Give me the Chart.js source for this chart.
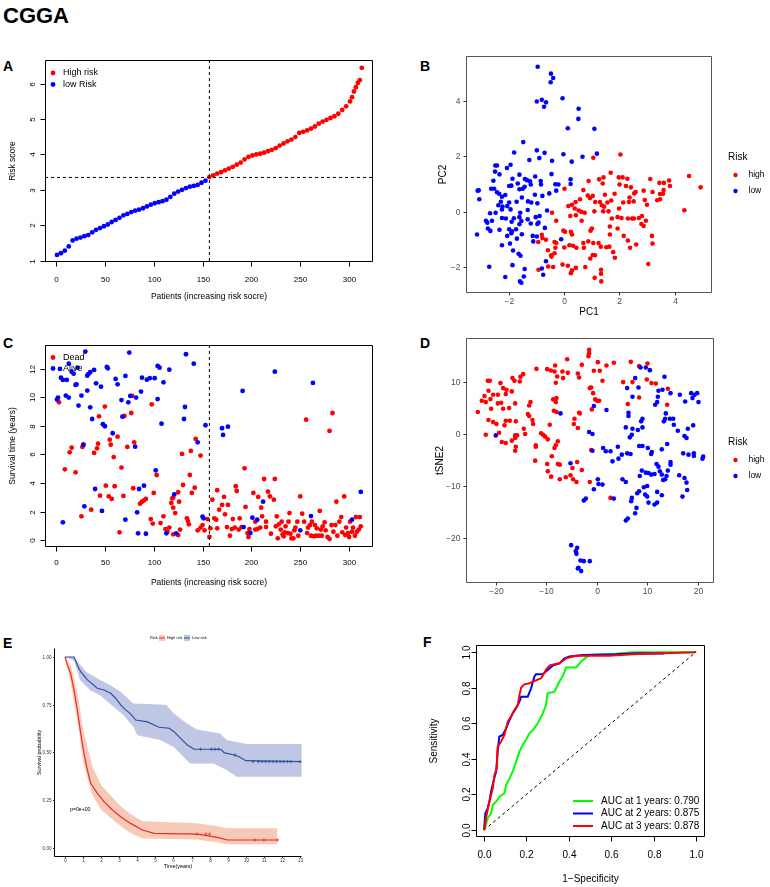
<!DOCTYPE html>
<html>
<head>
<meta charset="utf-8">
<script src="https://cdn.jsdelivr.net/npm/chart.js@4.4.0/dist/chart.umd.min.js"></script>
<style>
  body { margin: 0; background: #fff; }
  #wrap { position: relative; width: 770px; height: 887px; overflow: hidden; font-family: "Liberation Sans", Arial, sans-serif; }
  canvas { position: absolute; }
  .tag { position: absolute; font-weight: bold; font-size: 14px; line-height: 14px; color: #000; }
</style>
</head>
<body>
<div id="wrap">
  <div class="tag" style="left:3px;top:5px;font-size:22px;line-height:22px">CGGA</div>
  <div class="tag" style="left:3px;top:59px">A</div>
  <div class="tag" style="left:420px;top:59px">B</div>
  <div class="tag" style="left:3px;top:336px">C</div>
  <div class="tag" style="left:420px;top:336px">D</div>
  <div class="tag" style="left:3px;top:636px">E</div>
  <div class="tag" style="left:423px;top:635px">F</div>
  <canvas id="cA" width="385" height="265" style="left:0;top:40px"></canvas>
  <canvas id="cB" width="370" height="285" style="left:400px;top:40px"></canvas>
  <canvas id="cC" width="385" height="265" style="left:0;top:325px"></canvas>
  <canvas id="cD" width="370" height="285" style="left:400px;top:325px"></canvas>
  <canvas id="cE" width="385" height="277" style="left:0;top:610px"></canvas>
  <canvas id="cF" width="370" height="277" style="left:400px;top:610px"></canvas>
</div>
<script>
// ---- A: risk score by patient rank (sampled along the curve)
const riskIdx = [1,5,9,13,17,21,25,29,33,37,41,45,49,53,57,61,65,69,73,77,81,85,89,93,97,101,105,109,113,117,121,125,129,133,137,141,145,149,153,157,161,165,169,173,177,181,185,189,193,197,201,205,209,213,217,221,225,229,233,237,241,245,249,253,257,261,265,269,273,277,281,285,289,293,297,301,303,305,307,309,311,313];
const riskScore = [1.16,1.21,1.28,1.40,1.57,1.62,1.65,1.69,1.72,1.80,1.87,1.92,1.97,2.02,2.09,2.15,2.21,2.28,2.32,2.37,2.41,2.44,2.48,2.53,2.58,2.62,2.65,2.68,2.72,2.80,2.89,2.95,3.00,3.05,3.09,3.11,3.14,3.20,3.26,3.36,3.41,3.46,3.50,3.55,3.60,3.65,3.71,3.77,3.86,3.93,3.97,4.00,4.02,4.05,4.09,4.13,4.18,4.25,4.31,4.37,4.42,4.49,4.61,4.64,4.68,4.73,4.79,4.87,4.93,4.98,5.03,5.08,5.15,5.26,5.36,5.50,5.62,5.78,5.90,6.02,6.10,6.45];
const cutPatient = 157;
const riskCut = 3.35;
const rankTicks = [0, 50, 100, 150, 200, 250, 300];
const riskTicks = [1, 2, 3, 4, 5, 6];

// ---- B: PCA
const pcaHigh = [[1.06,1.95],[2.04,2.07],[1.69,1.41],[1.27,1.17],[1.43,1.24],[0.89,1.11],[1.98,1.24],[2.12,1.24],[2.29,1.19],[1.40,1.02],[2.01,0.98],[2.42,0.88],[2.24,0.93],[3.12,1.18],[3.45,1.04],[3.61,1.04],[3.80,1.13],[3.83,0.93],[4.52,1.29],[4.94,0.88],[0.02,0.83],[0.70,0.78],[0.86,0.58],[0.94,0.49],[1.04,0.57],[0.58,0.45],[1.48,0.61],[1.83,0.65],[2.54,0.66],[2.59,0.71],[2.88,0.76],[2.37,0.51],[2.52,0.37],[3.20,0.71],[3.47,0.64],[3.37,0.41],[3.58,0.65],[3.60,0.78],[3.47,0.45],[2.92,0.42],[3.0,0.25],[0.42,0.35],[0.29,0.25],[1.13,0.35],[1.30,0.35],[1.37,0.23],[1.45,0.18],[1.57,0.33],[1.71,0.40],[2.14,0.33],[2.35,0.35],[0.16,0.20],[0.39,0.11],[0.53,0.04],[0.63,-0.01],[0.75,-0.04],[0.43,-0.13],[1.10,0.01],[1.42,0.01],[1.61,0.01],[1.99,0.11],[2.31,-0.25],[2.46,-0.25],[2.53,-0.25],[2.71,-0.23],[2.82,-0.16],[2.96,-0.33],[2.80,-0.45],[2.88,-0.52],[4.35,0.05],[-0.43,-0.04],[-0.28,-0.33],[0.23,-0.16],[0.64,-0.33],[1.73,-0.25],[1.94,-0.20],[2.08,-0.23],[-0.02,-0.69],[0.04,-0.73],[0.25,-0.73],[0.29,-0.83],[1.01,-0.61],[0.96,-0.69],[1.66,-0.54],[1.66,-0.83],[1.94,-0.61],[2.16,-0.88],[2.31,-1.05],[2.39,-1.31],[2.61,-1.19],[3.18,-0.88],[3.20,-1.16],[-0.80,-0.84],[-0.78,-0.96],[-0.65,-1.02],[-0.93,-1.10],[-0.34,-1.10],[-0.28,-1.14],[0.01,-1.30],[0.20,-1.22],[0.33,-1.24],[0.45,-1.31],[0.70,-1.14],[0.72,-1.31],[0.88,-1.08],[1.06,-1.14],[1.25,-1.14],[1.33,-1.27],[1.53,-1.29],[1.64,-1.27],[-0.31,-1.31],[-0.58,-1.40],[-0.34,-1.51],[-0.45,-1.63],[1.04,-1.57],[1.12,-1.58],[1.78,-1.47],[1.84,-1.67],[-0.39,-2.01],[-0.57,-1.99],[-0.92,-2.11],[-0.05,-1.92],[0.14,-1.96],[0.29,-2.13],[0.43,-2.04],[0.25,-2.23],[0.77,-2.01],[1.11,-2.40],[1.34,-2.11],[1.34,-2.25],[1.35,-2.53],[3.05,-1.90],[-0.46,-1.58],[0.95,-1.70]];
const pcaLow = [[-0.95,5.25],[-0.47,5.0],[-0.39,4.84],[-0.48,4.69],[-0.98,3.99],[-0.80,4.05],[-0.65,3.96],[-0.72,3.80],[-0.05,4.11],[0.53,3.73],[0.52,3.36],[0.14,3.02],[1.10,3.0],[-1.47,2.52],[-1.80,2.14],[-0.98,2.22],[-0.70,2.13],[-0.02,2.08],[0.67,1.99],[1.19,2.10],[-1.25,1.87],[-0.89,1.94],[-0.43,1.84],[0.28,1.81],[-2.48,1.67],[-2.42,1.67],[-1.93,1.70],[-2.06,1.58],[-2.49,1.45],[-2.33,1.35],[-0.45,1.36],[-1.61,1.34],[-1.04,1.27],[-1.41,1.18],[-1.34,1.14],[-1.23,1.10],[-0.84,1.11],[-1.86,1.19],[-2.55,1.12],[-1.67,1.02],[-1.98,0.93],[-1.90,0.94],[-1.20,0.98],[-0.83,0.98],[-0.31,0.99],[-0.20,0.98],[0.24,1.17],[0.24,1.0],[-3.08,0.77],[-3.12,0.76],[-2.63,0.83],[-2.52,0.83],[-2.42,0.70],[-2.34,0.65],[-2.12,0.60],[-2.24,0.54],[-1.61,0.81],[-1.49,0.83],[-1.42,0.90],[-0.28,0.76],[-0.53,0.66],[-1.05,0.61],[-0.78,0.57],[-3.06,0.45],[-2.28,0.36],[-1.98,0.33],[-1.71,0.36],[-1.52,0.51],[-1.30,0.37],[-1.18,0.33],[-0.96,0.30],[-2.37,0.23],[-2.22,0.18],[-2.05,0.20],[-2.24,0.08],[-1.93,0.08],[-2.47,-0.04],[-2.67,-0.06],[-1.58,-0.04],[-1.31,0.06],[-0.61,0.04],[-2.82,-0.33],[-2.60,-0.33],[-2.24,-0.23],[-2.10,-0.25],[-1.81,-0.24],[-1.61,-0.20],[-1.54,-0.34],[-1.02,-0.20],[-0.88,-0.16],[-2.77,-0.40],[-1.89,-0.37],[-1.61,-0.46],[-1.20,-0.43],[-0.96,-0.45],[-0.92,-0.40],[-1.31,-0.28],[-2.75,-0.61],[-2.66,-0.70],[-2.33,-0.66],[-1.98,-0.64],[-1.88,-0.71],[-1.90,-0.78],[-1.73,-0.64],[-0.69,-0.59],[-3.14,-0.83],[-2.05,-0.88],[-1.70,-0.98],[-1.52,-0.82],[-1.13,-0.88],[-0.98,-0.90],[-0.10,-1.0],[-2.24,-1.22],[-1.95,-1.16],[-1.11,-1.08],[-1.84,-1.41],[-1.64,-1.53],[-1.57,-1.60],[-0.65,-1.80],[-2.70,-2.0],[-1.86,-1.94],[-1.42,-2.08],[-0.80,-2.06],[-0.75,-2.29],[-2.12,-2.37],[-1.45,-2.35],[-1.59,-2.53],[-1.54,-2.58]];
const pcaTicks = [-2, 0, 2, 4];

// ---- C: survival time by patient rank
const survDead = [[3,9.66],[50,9.36],[44,8.68],[70,8.70],[77,8.91],[78,10.11],[98,9.52],[143,7.09],[14,6.15],[16,6.48],[27,6.53],[28,6.71],[39,6.11],[42,6.43],[43,6.76],[55,7.04],[56,6.69],[63,7.25],[59,5.82],[73,6.53],[80,6.85],[129,6.04],[138,6.25],[148,5.92],[9,4.96],[20,4.75],[67,5.08],[103,4.56],[137,4.56],[45,3.11],[51,3.81],[54,3.06],[57,2.88],[60,3.77],[69,3.09],[79,3.63],[100,3.30],[120,2.97],[125,3.35],[130,3.86],[139,3.30],[142,3.67],[26,1.66],[36,2.13],[65,0.54],[86,2.55],[88,2.69],[90,2.78],[92,2.88],[97,1.47],[99,1.15],[107,1.19],[110,1.66],[112,0.77],[114,0.58],[116,0.87],[118,2.60],[119,2.92],[120,2.27],[122,1.89],[126,2.69],[120,0.40],[125,0.35],[127,0.73],[134,1.52],[135,1.33],[136,1.10],[148,0.87],[150,1.05],[145,0.68],[152,0.68],[155,1.47],[157,0.21],[158,0.82],[160,2.83],[162,1.52],[164,1.43],[165,0.82],[165,3.49],[167,2.13],[170,2.46],[172,3.02],[173,1.80],[175,0.91],[176,2.46],[178,0.30],[180,0.77],[181,1.47],[183,0.87],[184,3.77],[185,3.44],[187,0.73],[188,1.52],[190,0.91],[193,5.03],[194,2.32],[196,0.49],[197,0.21],[198,0.77],[202,3.30],[204,1.29],[204,0.73],[206,0.77],[207,3.02],[209,0.87],[210,2.27],[211,1.66],[213,4.28],[215,1.29],[215,0.91],[217,3.39],[219,3.06],[220,0.44],[223,2.83],[224,4.28],[225,0.96],[226,1.66],[227,0.12],[228,1.10],[230,0.73],[231,1.29],[232,0.40],[233,0.26],[234,0.54],[235,0.96],[237,0.49],[238,1.29],[239,1.89],[240,0.44],[241,0.12],[243,0.12],[244,0.68],[245,0.87],[247,1.29],[248,0.30],[250,3.06],[252,1.85],[254,1.29],[256,8.44],[257,0.49],[258,0.87],[260,1.05],[261,0.30],[262,1.29],[264,0.26],[265,1.05],[266,0.30],[267,0.82],[269,0.30],[270,2.04],[271,0.73],[272,0.30],[273,0.96],[275,1.24],[276,0.68],[278,0.21],[280,7.65],[280,0.07],[282,1.05],[283,8.91],[284,0.58],[286,1.05],[287,2.69],[288,0.30],[290,1.29],[292,1.61],[293,0.54],[295,3.06],[296,0.35],[297,0.87],[299,0.49],[300,0.21],[301,1.29],[303,0.58],[304,0.87],[306,0.30],[307,1.61],[308,0.58],[310,0.73],[311,1.61],[312,0.96]];
const survAlive = [[4,12.0],[13,12.37],[16,11.81],[18,11.67],[22,12.09],[5,11.39],[7,11.23],[11,11.23],[20,10.88],[21,10.92],[30,13.22],[33,11.63],[32,11.53],[35,11.77],[39,11.93],[52,12.14],[53,12.05],[41,10.99],[46,10.76],[61,11.3],[63,10.92],[71,11.51],[75,13.15],[88,11.39],[93,11.25],[96,11.35],[101,11.35],[104,12.21],[106,12.09],[116,11.95],[110,11.06],[133,13.03],[141,12.37],[2,9.99],[1,9.85],[10,10.13],[13,9.99],[26,10.13],[32,10.48],[23,9.43],[35,9.31],[37,8.49],[48,8.12],[50,7.98],[58,7.49],[67,9.82],[68,8.65],[74,9.66],[76,10.11],[82,9.99],[87,10.41],[104,9.89],[108,8.16],[132,9.33],[131,8.49],[153,8.05],[170,7.84],[176,7.95],[171,7.37],[145,6.85],[28,6.67],[81,6.55],[40,3.58],[85,3.58],[90,3.81],[102,4.89],[29,2.36],[47,2.04],[83,1.94],[71,1.43],[7,1.24],[84,0.47],[92,0.44],[113,0.47],[121,3.2],[123,0.47],[150,1.64],[151,1.52],[191,10.46],[224,11.81],[263,11.02],[212,2.69],[201,1.57],[206,1.43],[192,0.91],[199,0.49],[261,1.68],[303,1.43],[312,3.37],[250,0.68]];
const yearTicks = [0, 2, 4, 6, 8, 10, 12];

// ---- D: tSNE
const tsneHigh = [[-1.52,16.22],[-1.52,15.58],[-1.65,15.0],[-5.87,14.42],[-8.25,13.21],[-2.97,13.33],[0.20,13.85],[1.91,13.21],[3.37,13.72],[6.73,13.91],[8.38,13.08],[10.03,13.59],[-11.95,12.56],[-9.83,12.5],[-9.11,12.24],[-8.38,12.05],[-6.80,12.05],[-5.74,11.79],[-3.76,11.67],[-0.59,12.18],[0.59,12.18],[-14.59,11.54],[-15.12,11.03],[-16.70,10.77],[-16.30,10.26],[-15.25,10.13],[-7.85,11.09],[-6.67,10.77],[-3.50,10.90],[1.12,10.26],[5.21,10.0],[7.06,10.0],[9.90,10.51],[10.83,9.81],[11.68,9.74],[-21.58,10.26],[-21.19,10.26],[-19.08,9.81],[-18.55,8.85],[-17.89,8.53],[-16.83,8.21],[-8.12,9.87],[-1.12,8.97],[-1.39,8.85],[-21.45,8.33],[-20.53,7.56],[-22.24,7.31],[-19.60,7.56],[-18.02,7.69],[-22.77,6.41],[-21.98,6.15],[-21.06,6.73],[-19.60,5.90],[-18.94,6.03],[-18.55,4.87],[-16.17,5.90],[-13.14,6.15],[-13.40,5.51],[-8.65,6.67],[-7.99,6.92],[-8.12,6.15],[-0.73,7.88],[-0.33,6.67],[0.07,6.41],[0.46,6.41],[-23.56,4.23],[-20.92,4.87],[-17.36,5.0],[-13.66,3.85],[-13.40,3.46],[-8.51,4.49],[-7.99,4.23],[-3.50,4.10],[-3.37,3.97],[-0.99,4.74],[6.14,5.77],[8.38,7.05],[14.06,8.72],[13.93,5.64],[-21.45,2.69],[-20.53,2.31],[-19.87,1.92],[-18.02,2.56],[-18.28,1.67],[-17.23,2.56],[-16.04,2.44],[-14.46,1.03],[-12.74,2.69],[-12.61,1.92],[-9.31,1.79],[-4.42,2.95],[-4.55,1.92],[-3.76,1.15],[-21.98,-0.13],[-19.34,0.26],[-18.81,-1.54],[-18.02,-1.73],[-16.83,-1.28],[-16.17,-0.26],[-16.17,-0.77],[-15.78,-0.26],[-14.19,0.0],[-11.02,0.13],[-10.63,-0.13],[-10.23,-0.51],[-9.70,-1.03],[-16.04,-2.44],[-16.17,-3.21],[-12.08,-2.18],[-12.08,-2.44],[-8.38,-2.69],[-8.12,-2.18],[-7.72,-1.41],[-8.91,-4.29],[-12.21,-5.13],[-9.83,-5.77],[-7.72,-5.77],[-7.33,-5.90],[-3.89,-5.38],[-4.82,-6.54],[-2.97,-6.92],[-5.21,-7.95],[-6.14,-8.33],[-7.33,-8.72],[-9.04,-8.21],[-4.69,-8.72],[-4.03,-9.23],[-9.70,-7.18],[-1.39,-9.23],[-1.12,-3.08],[2.71,-12.31]];
const tsneLow = [[8.65,12.82],[9.70,12.82],[10.50,12.31],[13.40,11.03],[7.59,10.77],[8.25,8.97],[6.01,8.85],[12.21,8.33],[13.0,8.53],[14.59,7.88],[7.06,7.18],[12.08,7.18],[16.44,7.56],[18.68,7.88],[19.34,7.56],[19.87,7.88],[18.94,6.92],[20.13,6.15],[17.49,6.28],[11.95,6.15],[11.55,5.64],[-0.59,5.38],[1.91,4.62],[6.27,4.10],[6.27,3.46],[9.04,2.95],[8.78,2.44],[13.66,3.97],[13.53,2.95],[14.46,2.95],[15.12,2.95],[13.27,2.44],[15.25,1.79],[19.08,1.67],[18.02,1.03],[16.04,0.64],[5.74,1.28],[7.06,1.03],[8.12,0.77],[9.04,1.28],[6.53,-0.64],[6.93,-0.13],[-7.19,3.97],[-1.52,0.38],[-0.86,0.0],[-20.0,-0.26],[17.36,-0.38],[17.76,-0.77],[8.38,-2.31],[9.04,-2.31],[10.10,-2.69],[10.76,-3.85],[10.89,-3.46],[13.93,-1.92],[12.87,-2.95],[1.25,-2.69],[1.78,-3.33],[2.71,-3.33],[-0.86,-3.21],[4.16,-2.44],[3.10,-5.26],[4.29,-4.74],[4.95,-3.97],[6.01,-3.72],[6.67,-3.85],[17.10,-3.72],[18.15,-3.97],[19.21,-3.72],[19.21,-4.23],[21.06,-4.36],[20.92,-4.74],[-5.21,-5.64],[5.08,-8.72],[5.74,-9.23],[8.51,-8.08],[8.91,-7.05],[9.70,-7.44],[10.23,-7.50],[10.76,-7.82],[11.42,-7.69],[11.82,-5.77],[12.21,-6.28],[12.48,-7.18],[12.87,-7.82],[13.14,-8.85],[13.53,-8.72],[13.80,-8.08],[14.06,-7.05],[14.59,-5.90],[14.59,-5.38],[16.30,-7.95],[17.36,-8.46],[17.76,-9.36],[17.89,-10.77],[16.96,-12.05],[0.20,-8.72],[0.33,-9.62],[1.12,-9.74],[-0.59,-10.64],[3.37,-12.44],[7.99,-11.41],[8.38,-11.03],[9.31,-10.26],[9.97,-10.0],[9.57,-11.67],[9.97,-12.05],[10.23,-13.21],[11.42,-13.59],[11.95,-13.21],[11.95,-11.15],[12.87,-11.79],[6.93,-12.31],[6.80,-12.95],[7.85,-14.23],[7.59,-15.26],[6.14,-16.28],[5.74,-16.67],[-2.57,-12.82],[-2.18,-12.44],[-5.08,-21.41],[-3.89,-21.92],[-4.16,-22.56],[-4.03,-23.08],[-3.23,-24.36],[-2.57,-24.49],[-1.39,-24.49],[-3.63,-25.77],[-3.10,-26.41],[-3.76,-25.90]];
const tsneXTicks = [-20, -10, 0, 10, 20];
const tsneYTicks = [-20, -10, 0, 10];

// ---- E: Kaplan-Meier
const kmHighT = [0,0.13,0.31,0.50,0.68,0.87,1.05,1.24,1.42,1.79,2.16,2.62,3.08,3.63,4.28,4.93,7.32,8.43,8.99,11.75];
const kmHighS = [1,0.958,0.915,0.827,0.723,0.60,0.496,0.408,0.339,0.286,0.243,0.199,0.164,0.129,0.094,0.077,0.073,0.056,0.042,0.042];
const kmHighUpT = [0,0.3,0.5,0.75,1.0,1.5,2.0,3.0,3.6,4.3,7.3,8.4,8.95,11.75];
const kmHighUp = [1,0.96,0.89,0.78,0.62,0.43,0.33,0.225,0.18,0.14,0.13,0.115,0.103,0.103];
const kmHighLo = [1,0.87,0.76,0.63,0.45,0.28,0.20,0.12,0.08,0.05,0.045,0.03,0.02,0.02];
const kmLowT = [0,0.50,0.59,0.72,0.87,1.24,1.79,2.16,2.53,2.80,3.08,3.36,3.63,3.91,4.56,4.93,5.20,5.76,6.03,6.40,6.77,7.14,8.62,8.80,9.35,9.63,10.0,13.04];
const kmLowS = [1,1,0.98,0.949,0.923,0.88,0.836,0.827,0.81,0.784,0.749,0.723,0.702,0.67,0.66,0.644,0.632,0.627,0.609,0.574,0.539,0.517,0.517,0.499,0.487,0.478,0.457,0.452];
const kmLowUpT = [0,0.5,0.65,1.2,1.94,2.5,3.04,3.78,5.6,6.0,6.73,7.29,8.58,8.95,10.05,13.1];
const kmLowUp = [1,1,0.98,0.92,0.88,0.853,0.82,0.757,0.75,0.705,0.653,0.62,0.60,0.565,0.545,0.545];
const kmLowLoT = [0,0.5,0.83,1.38,1.94,2.68,3.23,3.78,4.0,5.26,6.0,6.92,8.2,8.95,9.5,13.1];
const kmLowLo = [1,0.98,0.88,0.827,0.80,0.74,0.696,0.635,0.59,0.565,0.53,0.443,0.443,0.408,0.373,0.373];
const censHighT = [7.3, 7.8, 8.0, 10.5, 11.0, 11.75];
const censHighS = [0.073, 0.073, 0.073, 0.042, 0.042, 0.042];
const censLowT = [7.5, 8.1, 8.3, 8.5, 9.4, 10.4, 10.7, 10.9, 11.1, 11.3, 11.5, 11.7, 11.9, 12.1, 12.3, 12.5, 13.0];
const censLowS = [0.517, 0.517, 0.517, 0.517, 0.487, 0.452, 0.452, 0.452, 0.452, 0.452, 0.452, 0.452, 0.452, 0.452, 0.452, 0.452, 0.452];
const timeTicks = [0,1,2,3,4,5,6,7,8,9,10,11,12,13];
const probTicks = [0, 0.25, 0.5, 0.75, 1];

// ---- F: time-dependent ROC
const roc1FPR = [0,0.009,0.017,0.033,0.041,0.057,0.072,0.096,0.104,0.12,0.135,0.151,0.167,0.182,0.198,0.214,0.237,0.253,0.277,0.292,0.30,0.332,0.355,0.374,0.387,0.434,0.458,0.473,0.497,0.59,0.70,0.84,0.99,1.0];
const roc1TPR = [0,0.028,0.066,0.094,0.14,0.159,0.187,0.206,0.253,0.29,0.328,0.384,0.44,0.478,0.506,0.543,0.571,0.60,0.655,0.702,0.768,0.777,0.833,0.871,0.912,0.912,0.946,0.961,0.983,0.987,0.998,0.998,0.998,1.0];
const roc2FPR = [0,0.006,0.017,0.025,0.033,0.044,0.057,0.064,0.072,0.088,0.104,0.12,0.135,0.151,0.167,0.175,0.206,0.222,0.237,0.245,0.277,0.30,0.324,0.355,0.379,0.403,0.465,0.623,0.717,0.85];
const roc2TPR = [0,0.094,0.122,0.159,0.215,0.272,0.328,0.44,0.524,0.534,0.571,0.618,0.655,0.684,0.721,0.749,0.749,0.796,0.861,0.875,0.875,0.899,0.923,0.936,0.964,0.974,0.983,0.987,0.993,0.991];
const roc3FPR = [0,0.009,0.025,0.041,0.049,0.06,0.064,0.08,0.096,0.112,0.127,0.143,0.159,0.167,0.175,0.19,0.214,0.237,0.269,0.292,0.308,0.332,0.355,0.387,0.434,0.591,0.701,0.843,0.992,1.0];
const roc3TPR = [0,0.066,0.159,0.234,0.309,0.346,0.468,0.496,0.534,0.609,0.637,0.674,0.702,0.758,0.80,0.818,0.824,0.837,0.852,0.899,0.923,0.931,0.936,0.964,0.979,0.979,0.987,0.993,0.998,1.0];
const rocLabels = ['AUC at 1 years: 0.790', 'AUC at 2 years: 0.875', 'AUC at 3 years: 0.878'];
const rocTicks = [0, 0.2, 0.4, 0.6, 0.8, 1.0];

const FONT = '"Liberation Sans", Arial, Helvetica, sans-serif';
const RED = '#FF0000', BLUE = '#0000FF';

function zip(xs, ys) { return xs.map((x, i) => ({ x: x, y: ys[i] })); }
function pairs(list) { return list.map(p => ({ x: p[0], y: p[1] })); }
function seg(c, x1, y1, x2, y2) { c.beginPath(); c.moveTo(x1, y1); c.lineTo(x2, y2); c.stroke(); }
function vtext(c, s, x, y) { c.save(); c.translate(x, y); c.rotate(-Math.PI / 2); c.fillText(s, 0, 0); c.restore(); }
function minus(v) { return String(v).replace('-', '\u2212'); }

function dotLegend(c, x, y, dy, labels, colors, font, tx, r) {
  c.font = font; c.textAlign = 'left'; c.textBaseline = 'middle';
  labels.forEach((s, i) => {
    c.fillStyle = colors[i];
    c.beginPath(); c.arc(x, y + i * dy, r, 0, Math.PI * 2); c.fill();
    c.fillStyle = '#000'; c.fillText(s, x + tx, y + i * dy);
  });
}

// draws frame, ticks, tick labels and titles from the chart's own scales
function axes(o) {
  return {
    id: 'axes',
    afterDraw(chart) {
      const c = chart.ctx, a = chart.chartArea, sx = chart.scales.x, sy = chart.scales.y;
      const L = Math.round(a.left) + 0.5, R = Math.round(a.right) - 0.5;
      const T = Math.round(a.top) + 0.5, B = Math.round(a.bottom) - 0.5;
      c.save();
      c.lineWidth = 1;
      c.strokeStyle = o.frame;
      c.beginPath();
      if (o.classic) { c.moveTo(L, T); c.lineTo(L, B); c.lineTo(R, B); }
      else c.rect(L, T, R - L, B - T);
      c.stroke();
      c.strokeStyle = o.tickColor; c.fillStyle = o.labelColor;
      c.font = o.tickFont; c.textAlign = 'center'; c.textBaseline = 'middle';
      o.xTicks.forEach(v => {
        const x = Math.round(sx.getPixelForValue(v)) + 0.5;
        seg(c, x, B, x, B + o.tickLen);
        c.fillText(o.fmtX ? o.fmtX(v) : String(v), x, B + o.xGap);
      });
      o.yTicks.forEach(v => {
        const y = Math.round(sy.getPixelForValue(v)) + 0.5;
        seg(c, L - o.tickLen, y, L, y);
        const s = o.fmtY ? o.fmtY(v) : String(v);
        if (o.rotY) vtext(c, s, L - o.yGap, y);
        else { c.textAlign = 'right'; c.fillText(s, L - o.yGap, y); c.textAlign = 'center'; }
      });
      c.fillStyle = '#000'; c.font = o.titleFont;
      if (o.xTitle) c.fillText(o.xTitle, (L + R) / 2, B + o.xTitleGap);
      if (o.yTitle) vtext(c, o.yTitle, L - o.yTitleGap, (T + B) / 2);
      if (o.extra) o.extra(c, chart);
      c.restore();
    }
  };
}

function plot(id, pad, lim, datasets, o) {
  return new Chart(document.getElementById(id), {
    type: 'scatter',
    data: { datasets: datasets },
    options: {
      responsive: false,
      animation: false,
      events: [],
      layout: { padding: pad },
      plugins: { legend: { display: false }, tooltip: { enabled: false } },
      scales: {
        x: { type: 'linear', display: false, min: lim[0], max: lim[1] },
        y: { type: 'linear', display: false, min: lim[2], max: lim[3] }
      },
      elements: { point: { borderWidth: 0 } }
    },
    plugins: [axes(o)]
  });
}

function baseStyle(extra) {
  return Object.assign({
    frame: '#000', tickColor: '#000', labelColor: '#000',
    tickFont: '8px ' + FONT, titleFont: '8.5px ' + FONT,
    tickLen: 5, rotY: true
  }, extra);
}

function ggStyle(extra) {
  return Object.assign({
    frame: '#555', tickColor: '#333', labelColor: '#4D4D4D',
    tickFont: '8.5px ' + FONT, titleFont: '10px ' + FONT,
    tickLen: 3, rotY: false, fmtX: minus, fmtY: minus
  }, extra);
}

function ggLegend(c) {
  c.font = '10px ' + FONT; c.fillStyle = '#000'; c.textAlign = 'left'; c.textBaseline = 'middle';
  c.fillText('Risk', 328, 117);
  dotLegend(c, 335.5, 135, 16, ['high', 'low'], [RED, BLUE], '8.5px ' + FONT, 13, 2.2);
}

// ---- A
const lowPts = [], highPts = [];
riskIdx.forEach((p, i) => (p < cutPatient ? lowPts : highPts).push({ x: p, y: riskScore[i] }));
plot('cA', { left: 45, top: 20, right: 12, bottom: 43 }, [-11.3, 324.5, 0.96, 6.67], [
  { data: highPts, backgroundColor: RED, pointRadius: 2.4 },
  { data: lowPts, backgroundColor: BLUE, pointRadius: 2.4 }
], baseStyle({
  xTicks: rankTicks, yTicks: riskTicks, xGap: 18, yGap: 13,
  xTitle: 'Patients (increasing risk socre)', xTitleGap: 35,
  yTitle: 'Risk score', yTitleGap: 33,
  extra(c, ch) {
    const a = ch.chartArea;
    const x = ch.scales.x.getPixelForValue(cutPatient), y = ch.scales.y.getPixelForValue(riskCut);
    c.strokeStyle = '#000'; c.setLineDash([3, 3]);
    seg(c, x, a.top, x, a.bottom); seg(c, a.left, y, a.right, y);
    c.setLineDash([]);
    dotLegend(c, a.left + 8, a.top + 13, 11.5, ['High risk', 'low Risk'], [RED, BLUE], '9px ' + FONT, 10, 2.4);
  }
}));

// ---- B
plot('cB', { left: 66, top: 16, right: 58, bottom: 32 }, [-3.54, 5.35, -2.95, 5.64], [
  { data: pairs(pcaLow), backgroundColor: BLUE, pointRadius: 2.3 },
  { data: pairs(pcaHigh), backgroundColor: RED, pointRadius: 2.3 }
], ggStyle({
  xTicks: pcaTicks, yTicks: pcaTicks, xGap: 9, yGap: 6,
  xTitle: 'PC1', xTitleGap: 20, yTitle: 'PC2', yTitleGap: 23,
  extra: ggLegend
}));

// ---- C
plot('cC', { left: 45, top: 20, right: 12, bottom: 43 }, [-11.3, 324.5, -0.49, 13.68], [
  { data: pairs(survAlive), backgroundColor: BLUE, pointRadius: 2.4 },
  { data: pairs(survDead), backgroundColor: RED, pointRadius: 2.4 }
], baseStyle({
  xTicks: rankTicks, yTicks: yearTicks, xGap: 16, yGap: 13,
  xTitle: 'Patients (increasing risk socre)', xTitleGap: 36,
  yTitle: 'Survival time (years)', yTitleGap: 33,
  extra(c, ch) {
    const a = ch.chartArea;
    const x = ch.scales.x.getPixelForValue(cutPatient);
    c.strokeStyle = '#000'; c.setLineDash([3, 3]);
    seg(c, x, a.top, x, a.bottom);
    c.setLineDash([]);
    dotLegend(c, a.left + 8, a.top + 12.5, 11, ['Dead', 'Alive'], [RED, BLUE], '9px ' + FONT, 10, 2.4);
  }
}));

// ---- D
plot('cD', { left: 66, top: 13, right: 56, bottom: 27 }, [-25.9, 23.2, -28.7, 18.5], [
  { data: pairs(tsneLow), backgroundColor: BLUE, pointRadius: 2.3 },
  { data: pairs(tsneHigh), backgroundColor: RED, pointRadius: 2.3 }
], ggStyle({
  xTicks: tsneXTicks, yTicks: tsneYTicks, xGap: 9, yGap: 6,
  yTitle: 'tSNE2', yTitleGap: 26,
  extra: ggLegend
}));

// ---- E
const kmRed = '#EE2B24', kmBlue = '#2D4EA3';
const bandRed = 'rgba(232,100,50,0.35)', bandBlue = 'rgba(46,69,170,0.3)';
const kmLine = (data, color, w) => ({ data: data, showLine: true, borderColor: color, borderWidth: w, pointRadius: 0, fill: false });
plot('cE', { left: 54, top: 38, right: 83, bottom: 30 }, [-0.608, 13.11, -0.047, 1.047], [
  { data: zip(censHighT, censHighS), pointStyle: 'cross', pointRadius: 1.6, borderWidth: 0.8, borderColor: kmRed },
  { data: zip(censLowT, censLowS), pointStyle: 'cross', pointRadius: 1.6, borderWidth: 0.8, borderColor: kmBlue },
  kmLine(zip(kmHighT, kmHighS), kmRed, 1.2),
  kmLine(zip(kmLowT, kmLowS), kmBlue, 1.2),
  Object.assign(kmLine(zip(kmHighUpT, kmHighUp), 'transparent', 0), { fill: '+1', backgroundColor: bandRed }),
  kmLine(zip(kmHighUpT, kmHighLo), 'transparent', 0),
  Object.assign(kmLine(zip(kmLowUpT, kmLowUp), 'transparent', 0), { fill: '+1', backgroundColor: bandBlue }),
  kmLine(zip(kmLowLoT, kmLowLo), 'transparent', 0)
], {
  classic: true, frame: '#000', tickColor: '#333', labelColor: '#333',
  tickFont: '4.6px ' + FONT, titleFont: '5.4px ' + FONT, tickLen: 1.5, rotY: false,
  xTicks: timeTicks, yTicks: probTicks, xGap: 4.5, yGap: 3,
  fmtY: v => v.toFixed(2),
  xTitle: 'Time(years)', xTitleGap: 10, yTitle: 'Survival probability', yTitleGap: 15,
  extra(c) {
    c.font = '5.2px ' + FONT; c.fillStyle = '#000'; c.textAlign = 'left'; c.textBaseline = 'middle';
    c.fillText('p=0e+00', 70, 200);
    c.font = '4px ' + FONT;
    c.fillText('Risk', 150, 28);
    [[159, kmRed, bandRed, 'High risk'], [184, kmBlue, bandBlue, 'Low risk']].forEach(k => {
      c.fillStyle = k[2]; c.fillRect(k[0], 25, 6, 6);
      c.strokeStyle = k[1]; c.lineWidth = 1; seg(c, k[0], 28, k[0] + 6, 28);
      c.fillStyle = '#000'; c.fillText(k[3], k[0] + 8, 28);
    });
  }
});

// ---- F
const rocLine = (data, color) => ({ data: data, showLine: true, borderColor: color, borderWidth: 2, pointRadius: 0 });
const rocColors = ['#00FF00', '#0000FF', '#FF0000'];
plot('cF', { left: 76, top: 35, right: 65, bottom: 50 }, [-0.038, 1.042, -0.039, 1.039], [
  rocLine(zip(roc3FPR, roc3TPR), rocColors[2]),
  rocLine(zip(roc2FPR, roc2TPR), rocColors[1]),
  rocLine(zip(roc1FPR, roc1TPR), rocColors[0]),
  { data: [{ x: 0, y: 0 }, { x: 1, y: 1 }], showLine: true, borderColor: '#000', borderWidth: 1, borderDash: [3, 3], pointRadius: 0 }
], baseStyle({
  tickFont: '10px ' + FONT, titleFont: '10px ' + FONT,
  xTicks: rocTicks, yTicks: rocTicks, xGap: 19, yGap: 9,
  fmtX: v => v.toFixed(1), fmtY: v => v.toFixed(1),
  xTitle: '1\u2212Specificity', xTitleGap: 43, yTitle: 'Sensitivity', yTitleGap: 42,
  extra(c) {
    c.font = '10px ' + FONT; c.textAlign = 'left'; c.textBaseline = 'middle'; c.lineWidth = 2;
    rocLabels.forEach((s, i) => {
      const y = 191 + i * 12.5;
      c.strokeStyle = rocColors[i]; seg(c, 173, y, 193, y);
      c.fillStyle = '#000'; c.fillText(s, 201, y);
    });
  }
}));
</script>
</body>
</html>
